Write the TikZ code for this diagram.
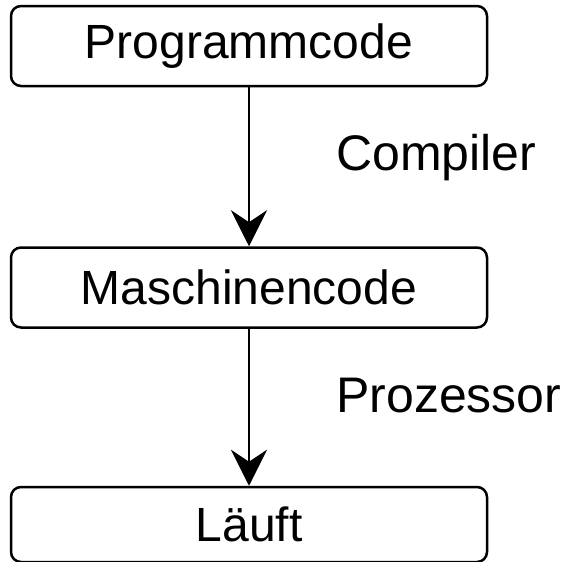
\documentclass[tikz,border=0pt]{standalone}
\usepackage{fontspec}
\setmainfont{Liberation Sans}
\usetikzlibrary{positioning, arrows.meta}

\begin{document}
\begin{tikzpicture}[x=1pt, y=1pt, node distance={159pt}, line width=2.5pt,
  box/.style = {draw, rounded corners=10pt, minimum width=476pt, minimum height=80pt, inner sep=0pt, font=\fontsize{48}{56}\selectfont},
  lbl/.style = {anchor=west, inner sep=0pt, font=\fontsize{50}{56}\selectfont},
  flow/.style = {-{Stealth[length=36pt, width=36pt, inset=12pt]}}]
\useasboundingbox (0,0) rectangle (562,-562);
\node[box] (prog) at (249,-46) {Programmcode};
\node[box] (masch) [below=of prog] {Maschinencode};
\node[box] (lauf) [minimum height=75pt, below=157pt of masch] {Läuft};
\node[lbl] (comp) at (335,-158) {Compiler};
\node[lbl] (proz) at (335,-396) {Prozessor};

\draw[flow] (prog) -- (masch);
\draw[flow] (masch) -- (lauf);

\end{tikzpicture}
\end{document}
